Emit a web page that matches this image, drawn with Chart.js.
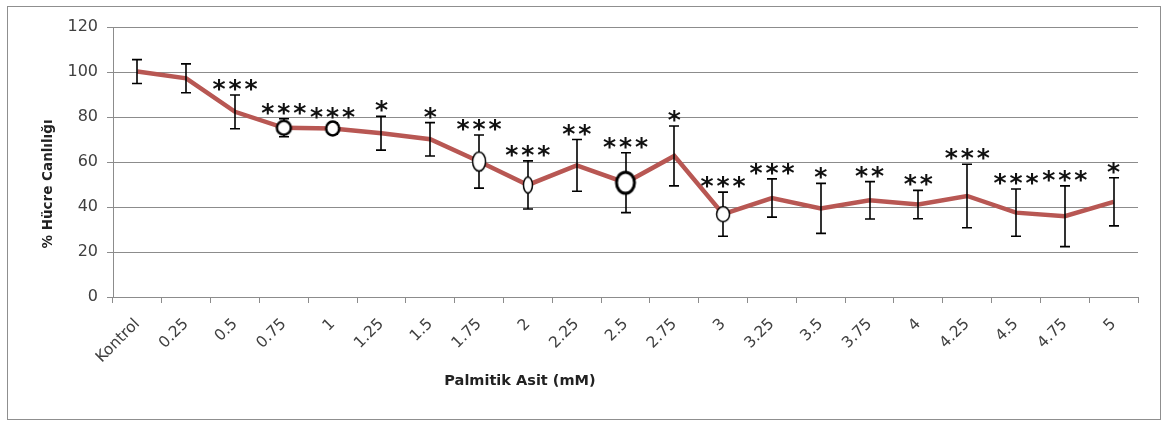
<!DOCTYPE html>
<html>
<head>
<meta charset="utf-8">
<script src="https://cdn.jsdelivr.net/npm/chart.js@4.4.1/dist/chart.umd.min.js"></script>
<style>
    html, body { margin: 0; padding: 0; background: #fff; }
    #frame { position: absolute; left: 7px; top: 6px; width: 1152px; height: 412px; border: 1.5px solid #8f8f8f; }
    #wrap { position: absolute; left: 0; top: 0; width: 1168px; height: 422px; }
</style>
</head>
<body>
<div id="frame"></div>
<div id="wrap"><canvas id="viability-chart"></canvas></div>
<script>
// Palmitik asit - hücre canlılığı grafiği

const concentrations = ['Kontrol', '0.25', '0.5', '0.75', '1', '1.25', '1.5', '1.75', '2', '2.25', '2.5',
    '2.75', '3', '3.25', '3.5', '3.75', '4', '4.25', '4.5', '4.75', '5'];
const viability = [100.2, 97.2, 82.3, 75.2, 74.9, 72.8, 70.1, 60.2, 49.8, 58.5, 50.8,
    62.7, 36.8, 44.0, 39.4, 43.0, 41.1, 44.9, 37.5, 35.9, 42.3];
const errorSD = [5.3, 6.4, 7.5, 4.0, 2.5, 7.5, 7.4, 11.8, 10.7, 11.5, 13.3,
    13.3, 9.8, 8.5, 11.1, 8.3, 6.3, 14.1, 10.5, 13.5, 10.7];
const significance = ['', '', '***', '***', '***', '*', '*', '***', '***', '**', '***',
    '*', '***', '***', '*', '**', '**', '***', '***', '***', '*'];
const markedDoses = ['0.75', '1', '1.75', '2', '2.5', '3'];
const yTicks = [0, 20, 40, 60, 80, 100, 120];

// marker look (width, height, border) for the open circles
const markerShapes = {
    '0.75': { w: 14, h: 14, lw: 2.5 },
    '1':    { w: 13, h: 14, lw: 2.5 },
    '1.75': { w: 13, h: 19, lw: 1.5 },
    '2':    { w: 9,  h: 16, lw: 1.5 },
    '2.5':  { w: 18, h: 21, lw: 3 },
    '3':    { w: 13, h: 15, lw: 1.5 }
};

function makeMarker(shape) {
    const c = document.createElement('canvas');
    c.width = shape.w + shape.lw * 2 + 2;
    c.height = shape.h + shape.lw * 2 + 2;
    const g = c.getContext('2d');
    g.beginPath();
    g.ellipse(c.width / 2, c.height / 2, shape.w / 2, shape.h / 2, 0, 0, Math.PI * 2);
    g.fillStyle = '#fff';
    g.fill();
    g.lineWidth = shape.lw;
    g.strokeStyle = '#000';
    g.stroke();
    return c;
}

const markerImages = concentrations.map(c => markerShapes[c] ? makeMarker(markerShapes[c]) : 'circle');
const markerData = concentrations.map((c, i) => markedDoses.includes(c) ? viability[i] : null);

const chartExtras = {
    id: 'chartExtras',
    afterDatasetDraw(chart, args) {
        if (args.index !== 0) return;
        const { ctx, scales: { x, y } } = chart;
        ctx.save();
        ctx.strokeStyle = '#000';
        ctx.lineWidth = 1.6;
        viability.forEach((v, i) => {
            const px = Math.round(x.getPixelForValue(i));
            const top = y.getPixelForValue(v + errorSD[i]);
            const bottom = y.getPixelForValue(v - errorSD[i]);
            ctx.beginPath();
            ctx.moveTo(px, top);
            ctx.lineTo(px, bottom);
            ctx.moveTo(px - 5, top);
            ctx.lineTo(px + 5, top);
            ctx.moveTo(px - 5, bottom);
            ctx.lineTo(px + 5, bottom);
            ctx.stroke();
        });
        ctx.restore();
    },
    afterDraw(chart) {
        const { ctx, scales: { x, y } } = chart;
        ctx.save();
        // significance stars
        ctx.fillStyle = '#111';
        ctx.font = 'bold 25px "DejaVu Sans"';
        ctx.textAlign = 'center';
        ctx.textBaseline = 'alphabetic';
        const m = ctx.measureText('*');
        const lift = (m.actualBoundingBoxAscent - m.actualBoundingBoxDescent) / 2;
        significance.forEach((s, i) => {
            if (!s) return;
            const cx = x.getPixelForValue(i);
            const cy = y.getPixelForValue(viability[i] + errorSD[i]) - 10;
            for (let k = 0; k < s.length; k++) {
                const sx = cx + (k - (s.length - 1) / 2) * 16;
                ctx.fillText('*', sx, cy + lift);
            }
        });

        // axis titles
        ctx.fillStyle = '#222';
        ctx.textBaseline = 'middle';
        ctx.font = 'bold 14.5px "DejaVu Sans"';
        ctx.fillText('Palmitik Asit (mM)', 520, 381);
        ctx.translate(48, 184);
        ctx.rotate(-Math.PI / 2);
        ctx.font = 'bold 13.5px "DejaVu Sans"';
        ctx.fillText('% Hücre Canlılığı', 0, 0);
        ctx.restore();
    }
};

const ctx = document.getElementById('viability-chart').getContext('2d');

new Chart(ctx, {
    type: 'line',
    data: {
        labels: concentrations,
        datasets: [
            {
                label: 'Canlılık',
                data: viability,
                borderColor: '#b85753',
                borderWidth: 4.5,
                pointRadius: 0,
                tension: 0,
                fill: false,
                order: 2
            },
            {
                label: 'İşaret',
                data: markerData,
                showLine: false,
                pointRadius: 5,
                pointStyle: c => markerImages[c.dataIndex],
                order: 1
            }
        ]
    },
    options: {
        responsive: true,
        maintainAspectRatio: false,
        animation: false,
        events: [],
        layout: {
            padding: { left: 0, right: 30, top: 27, bottom: 0 }
        },
        plugins: {
            legend: { display: false },
            tooltip: { enabled: false }
        },
        scales: {
            x: {
                offset: true,
                afterFit: scale => { scale.height = 125; },
                grid: {
                    offset: true,
                    drawOnChartArea: false,
                    tickLength: 6,
                    color: '#8c8c8c'
                },
                border: { color: '#8c8c8c' },
                ticks: {
                    autoSkip: false,
                    maxRotation: 45,
                    minRotation: 45,
                    padding: 12,
                    color: '#404040',
                    font: { family: 'DejaVu Sans', size: 15.5 }
                }
            },
            y: {
                min: 0,
                max: 120,
                afterFit: scale => { scale.width = 113; },
                afterBuildTicks: scale => { scale.ticks = yTicks.map(v => ({ value: v })); },
                grid: {
                    color: '#8c8c8c',
                    tickLength: 6
                },
                border: { color: '#8c8c8c' },
                ticks: {
                    padding: 9,
                    color: '#404040',
                    font: { family: 'DejaVu Sans', size: 16 }
                }
            }
        }
    },
    plugins: [chartExtras]
});
</script>
</body>
</html>
